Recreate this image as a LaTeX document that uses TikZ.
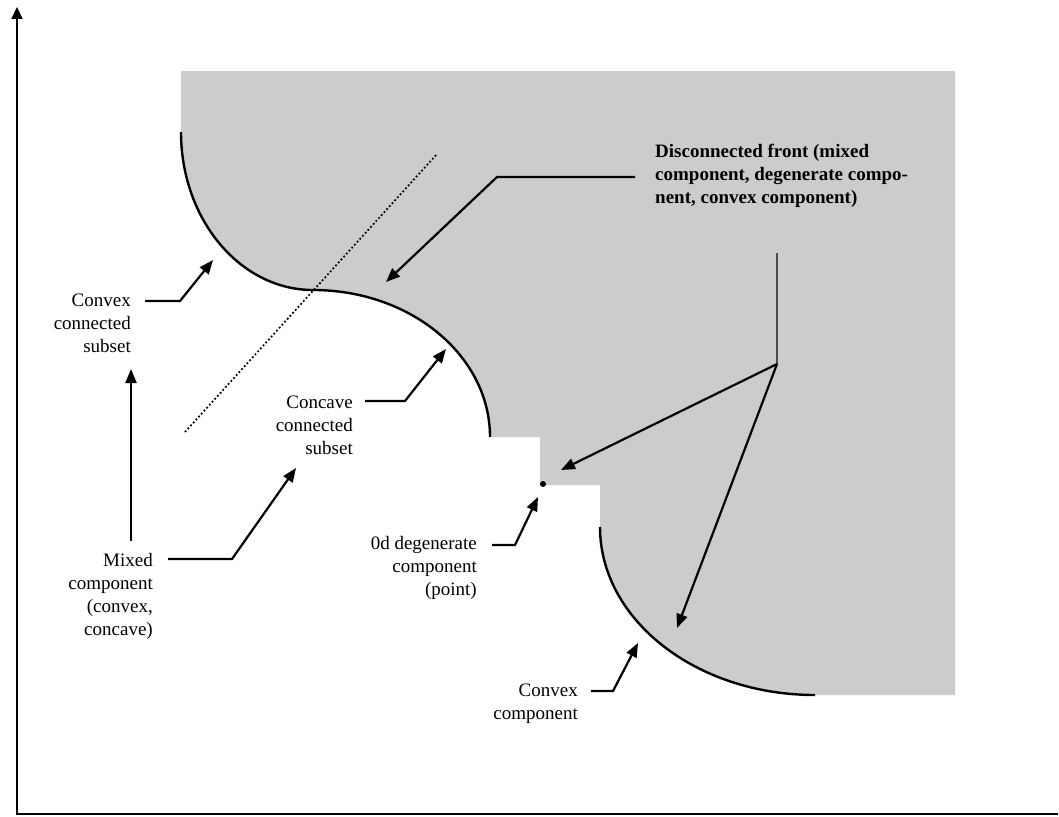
\documentclass[tikz,border=0pt]{standalone}
\usepackage{fontspec}
\setmainfont{Liberation Serif}
\usetikzlibrary{arrows.meta}
\definecolor{regiongray}{RGB}{204,204,204}
\tikzset{
  lbl/.style={inner sep=0pt, font=\fontsize{19}{23}\selectfont},
  callout/.style={line width=2.2pt, -{Triangle[length=14pt,width=11pt]}, line join=miter},
  boundary/.style={line width=2.4pt},
  axis/.style={line width=2.2pt},
}
\begin{document}
\begin{tikzpicture}[x=1pt,y=-1pt]
\useasboundingbox (0,0) rectangle (1059,816);

% shaded region of the front
\fill[regiongray] (181,71) -- (955,71) -- (955,695) -- (815,695)
  .. controls (696.3,695) and (600,619.8) .. (600,527)
  -- (600,485) -- (540,485) -- (540,437) -- (490,437)
  .. controls (490,355.8) and (410.8,290) .. (313,290)
  .. controls (240.1,290) and (181,219.3) .. (181,132) -- cycle;

% curved parts of the front
\draw[boundary] (181,132) .. controls (181,219.3) and (240.1,290) .. (313,290)
  .. controls (410.8,290) and (490,355.8) .. (490,437);
\draw[boundary] (600,527) .. controls (600,619.8) and (696.3,695) .. (815,695);

% degenerate point
\fill (543,484) circle (3);

% dotted separator
\coordinate (sepA) at (185,432);
\coordinate (sepB) at (437,154);
\draw[line width=1.7pt, dash pattern=on 1.8pt off 2.2pt] (sepA) -- (sepB);

% axes
\coordinate (origin) at (17,814);
\coordinate (ytop) at (17,7);
\coordinate (xend) at (1058,814);
\draw[axis, -{Triangle[length=12pt,width=11pt]}] (origin) -- (ytop);
\draw[axis] (16,814) -- (xend);

% labels
\node[lbl, anchor=east, align=right] (cvxsub) at (131,323) {Convex\\connected\\subset};
\node[lbl, anchor=east, align=right] (mixed) at (153,596) {Mixed\\component\\(convex,\\concave)};
\node[lbl, anchor=east, align=right] (ccvsub) at (353,425) {Concave\\connected\\subset};
\node[lbl, anchor=east, align=right] (degen) at (477,568) {0d degenerate\\component\\(point)};
\node[lbl, anchor=east, align=right] (cvxcomp) at (578,704) {Convex\\component};
\node[lbl, anchor=west, align=left, font=\fontsize{19}{23}\selectfont\bfseries] (front) at (655,176)
  {Disconnected front (mixed\\component, degenerate compo-\\nent, convex component)};

% callout anchor points
\coordinate (cvxsubA) at (145,301);
\coordinate (cvxsubB) at (180,301);
\coordinate (cvxsubT) at (213,260);

\coordinate (mixedUp) at (131,541);
\coordinate (mixedUpT) at (131,369);
\coordinate (mixedA) at (168,559);
\coordinate (mixedB) at (232,559);
\coordinate (mixedT) at (296,468);

\coordinate (ccvA) at (365,401);
\coordinate (ccvB) at (405,401);
\coordinate (ccvT) at (446,349);

\coordinate (degA) at (492,545);
\coordinate (degB) at (515,545);
\coordinate (degT) at (538,497);

\coordinate (cvxA) at (591,691);
\coordinate (cvxB) at (613,691);
\coordinate (cvxT) at (638,643);

\coordinate (frontA) at (635,177);
\coordinate (frontB) at (497,177);
\coordinate (frontT) at (386,282);

\coordinate (hubTop) at (777,253);
\coordinate (hub) at (777,364);
\coordinate (hubT1) at (561,470);
\coordinate (hubT2) at (677,628);

% callouts
\draw[callout] (cvxsubA) -- (cvxsubB) -- (cvxsubT);
\draw[callout] (mixedUp) -- (mixedUpT);
\draw[callout] (mixedA) -- (mixedB) -- (mixedT);
\draw[callout] (ccvA) -- (ccvB) -- (ccvT);
\draw[callout] (degA) -- (degB) -- (degT);
\draw[callout] (cvxA) -- (cvxB) -- (cvxT);
\draw[callout] (frontA) -- (frontB) -- (frontT);
\draw[line width=1.8pt, black!70] (hubTop) -- (hub);
\draw[callout] (hub) -- (hubT1);
\draw[callout] (hub) -- (hubT2);
\end{tikzpicture}
\end{document}
